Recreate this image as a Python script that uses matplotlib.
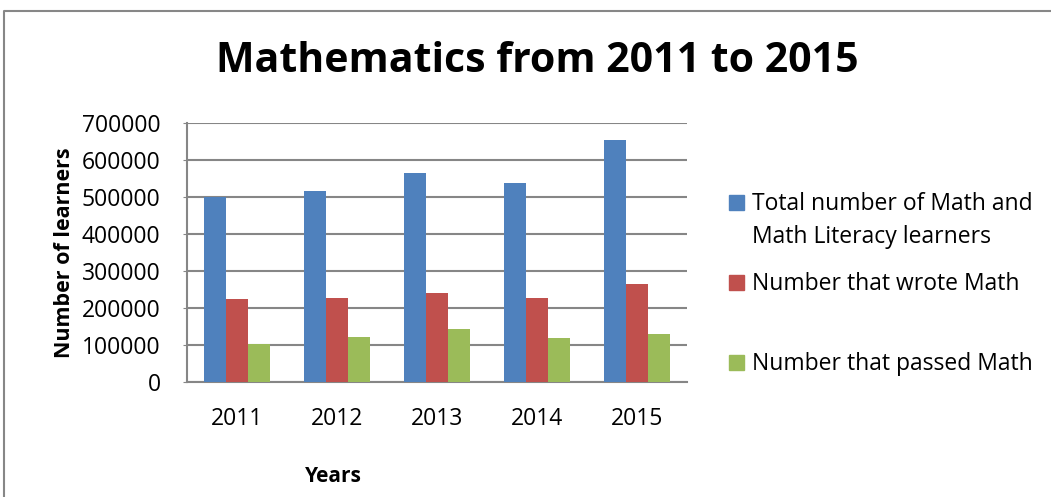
import matplotlib
matplotlib.use("Agg")
import matplotlib.pyplot as plt
import numpy as np
from matplotlib.patches import Rectangle
from matplotlib.lines import Line2D

plt.rcParams["font.family"] = ["Open Sans", "DejaVu Sans"]

years = ["2011", "2012", "2013", "2014", "2015"]
total_learners = [501000, 517000, 565000, 538000, 653000]
wrote_math = [224000, 226000, 241000, 226000, 265000]
passed_math = [104000, 121000, 142000, 120000, 129000]

series_names = [
    "Total number of Math and\nMath Literacy learners",
    "Number that wrote Math",
    "Number that passed Math",
]
series_values = [total_learners, wrote_math, passed_math]
colors = ["#4F81BD", "#C0504D", "#9BBB59"]

W, H = 1051, 497
fig = plt.figure(figsize=(W / 100, H / 100), dpi=100)
ax = fig.add_axes([187 / W, 1 - 382 / H, 500 / W, 259 / H])

x = np.arange(len(years))
bar_w = 0.223
for i, (vals, col) in enumerate(zip(series_values, colors)):
    ax.bar(x + (i - 1) * bar_w, vals, width=bar_w, color=col, zorder=3)

ax.set_xlim(-0.5, len(years) - 0.5)
ax.set_ylim(0, 700000)
ax.set_yticks(range(0, 700001, 100000))
ax.set_xticks(x)
ax.set_xticklabels(years)
ax.yaxis.grid(True, color="#868686", linewidth=1.5, zorder=0)
ax.set_axisbelow(True)
for s in ["top", "right"]:
    ax.spines[s].set_visible(False)
for s in ["left", "bottom"]:
    ax.spines[s].set_color("#868686")
    ax.spines[s].set_linewidth(1.5)
ax.tick_params(axis="y", length=3, color="#868686", pad=16, labelsize=16.5)
ax.tick_params(axis="x", length=0, pad=18, labelsize=16.5)

ax.set_ylabel("Number of learners", fontsize=15.5, fontweight="bold")
ax.yaxis.set_label_coords(-0.224, 0.5)
ax.set_xlabel("Years", fontsize=15, fontweight="bold")
ax.xaxis.set_label_coords(0.292, -0.325)

fig.text(0.511, 1 - 61 / H, "Mathematics from 2011 to 2015",
         fontsize=29.5, fontweight="bold", ha="center", va="center")

# legend drawn by hand to the right of the axes
baselines = [210, 290, 370]
for name, col, yb in zip(series_names, colors, baselines):
    fig.add_artist(Rectangle((729 / W, 1 - yb / H), 15 / W, 15 / H,
                             transform=fig.transFigure, color=col))
    fig.text(752 / W, 1 - yb / H, name.split("\n")[0], fontsize=16.5,
             ha="left", va="baseline")
    if "\n" in name:
        fig.text(752 / W, 1 - (yb + 33) / H, name.split("\n")[1],
                 fontsize=16.5, ha="left", va="baseline")

# outer chart border (only top and left edges fall inside the image)
fig.add_artist(Line2D([4 / W, 4 / W, 1.0], [0.0, 1 - 11 / H, 1 - 11 / H],
                      transform=fig.transFigure, color="#878787", linewidth=1.5))

fig.savefig("out.png", dpi=100)
